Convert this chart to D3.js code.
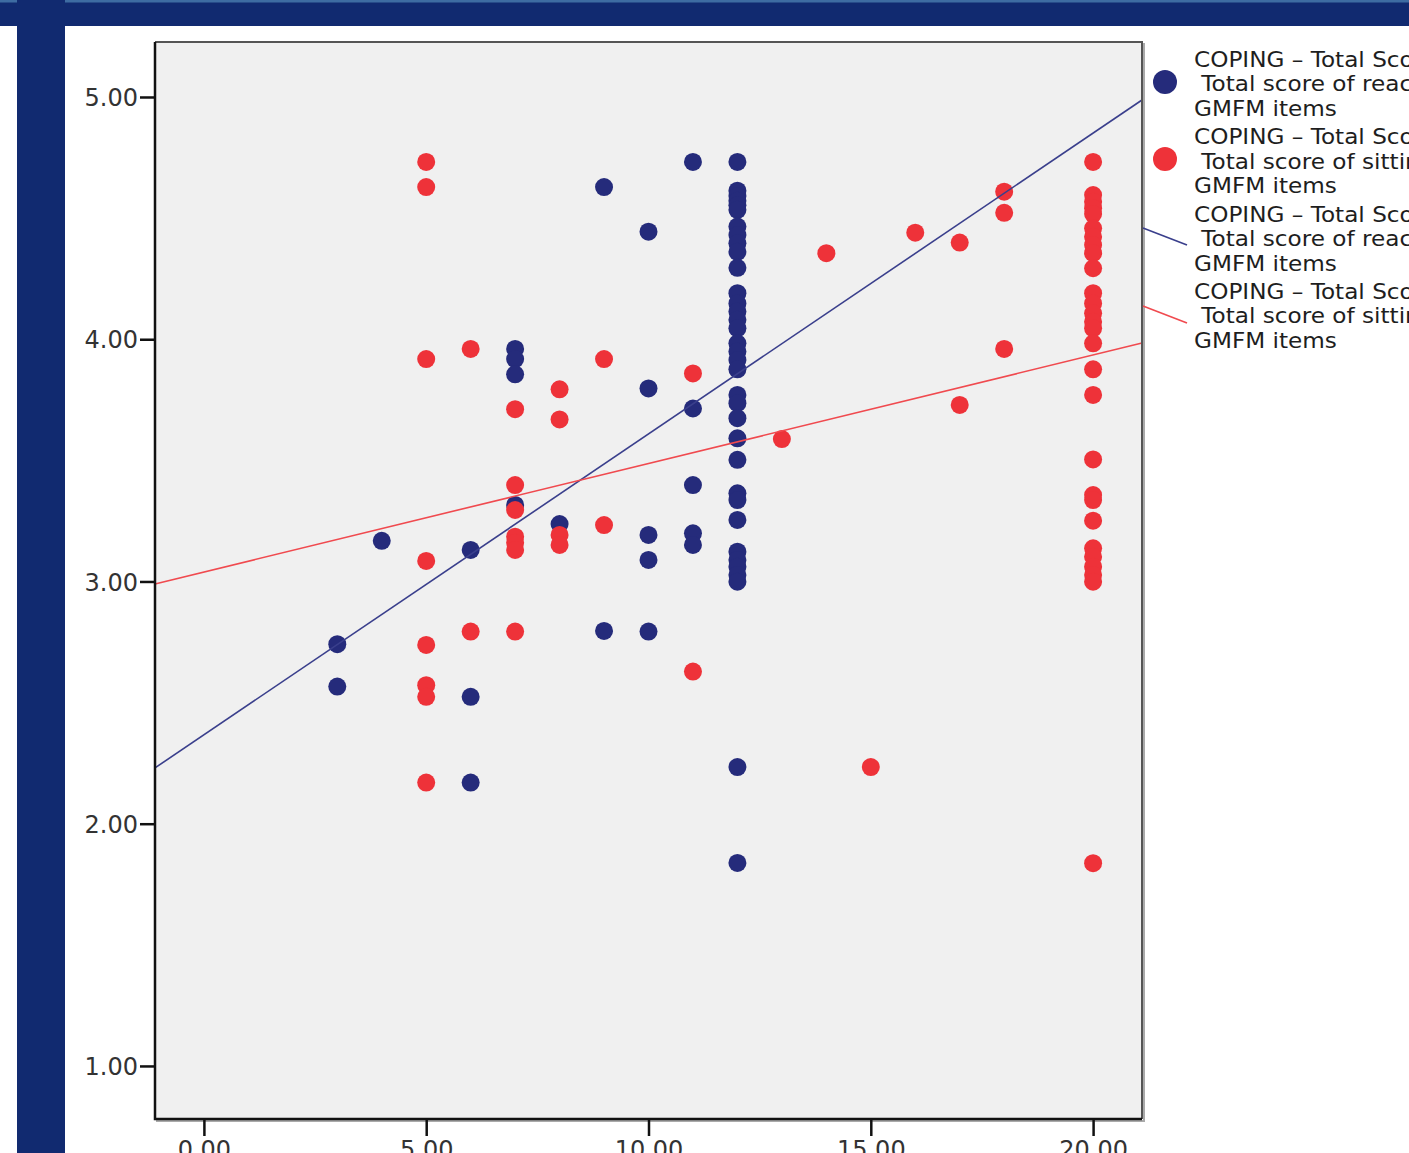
<!DOCTYPE html>
<html>
<head>
<meta charset="utf-8">
<script src="https://cdn.jsdelivr.net/npm/d3@7"></script>
<style>
  html, body { margin: 0; padding: 0; background: #fff; overflow: hidden; }
  svg { display: block; }
</style>
</head>
<body>
<svg id="chart" width="1409" height="1153"></svg>
<script>
// Reaching GMFM score (x) vs COPING total score (y)
const reachX = [3, 3, 4, 6, 6, 6, 7, 7, 7, 7, 8, 9, 9, 10, 10, 10, 10, 10, 11, 11, 11, 11, 11,
  12, 12, 12, 12, 12, 12, 12, 12, 12, 12, 12, 12, 12, 12, 12, 12, 12, 12, 12, 12,
  12, 12, 12, 12, 12, 12, 12, 12, 12, 12, 12, 12, 12, 12, 12];
const reachY = [2.741, 2.566, 3.168, 3.130, 2.524, 2.170, 3.960, 3.918, 3.855, 3.316, 3.237, 4.628, 2.796,
  4.444, 3.797, 3.192, 3.089, 2.793, 4.732, 3.714, 3.398, 3.199, 3.151,
  4.732, 4.613, 4.591, 4.572, 4.553, 4.534, 4.465, 4.430, 4.396, 4.361, 4.295, 4.190, 4.148, 4.114,
  4.080, 4.045, 3.983, 3.949, 3.914, 3.876, 3.770, 3.736, 3.674, 3.591, 3.502, 3.364, 3.336, 3.254,
  3.123, 3.089, 3.061, 3.027, 2.999, 2.234, 1.838];

// Sitting GMFM score (x) vs COPING total score (y)
const sitX = [5, 5, 5, 5, 5, 5, 5, 5, 6, 6, 7, 7, 7, 7, 7, 7, 7, 8, 8, 8, 8, 9, 9, 11, 11, 13, 14, 15, 16, 17, 17, 18, 18, 18,
  20, 20, 20, 20, 20, 20, 20, 20, 20, 20, 20, 20, 20, 20, 20, 20, 20, 20, 20, 20, 20, 20, 20, 20, 20, 20, 20, 20];
const sitY = [4.732, 4.628, 3.918, 3.085, 2.738, 2.572, 2.524, 2.170, 3.960, 2.793,
  3.711, 3.398, 3.295, 3.185, 3.160, 3.130, 2.793, 3.793, 3.669, 3.192, 3.151, 3.918, 3.233,
  3.859, 2.628, 3.588, 4.355, 2.234, 4.440, 4.399, 3.729, 4.609, 4.522, 3.960,
  4.732, 4.595, 4.568, 4.541, 4.517, 4.458, 4.423, 4.389, 4.355, 4.293, 4.190, 4.148, 4.107, 4.072,
  4.045, 3.983, 3.876, 3.770, 3.504, 3.357, 3.336, 3.251, 3.137, 3.102, 3.061, 3.027, 2.999, 1.837];

// linear fit lines: [intercept, slope]
const reachFit = [2.367, 0.1242];
const sitFit = [3.039, 0.0448];

const xTicks = [0, 5, 10, 15, 20];
const yTicks = [1, 2, 3, 4, 5];

const legendLines = [
  ['COPING – Total Score', ' Total score of reaching', 'GMFM items'],
  ['COPING – Total Score', ' Total score of sitting', 'GMFM items'],
  ['COPING – Total Score', ' Total score of reaching', 'GMFM items'],
  ['COPING – Total Score', ' Total score of sitting', 'GMFM items']
];

const navy = '#112a70';
const blueDot = '#252b7b';
const redDot = '#ee3239';
const blueLine = '#3a3f8c';
const redLine = '#f04a4f';

const svg = d3.select('#chart');

// window chrome around the screenshot
svg.append('rect').attr('x', 0).attr('y', 0).attr('width', 1409).attr('height', 26).attr('fill', navy);
svg.append('rect').attr('x', 0).attr('y', 0).attr('width', 1409).attr('height', 2.5).attr('fill', '#3e6ca2');
svg.append('rect').attr('x', 17).attr('y', 0).attr('width', 48).attr('height', 1153).attr('fill', navy);
svg.append('rect').attr('x', 24).attr('y', 0).attr('width', 33).attr('height', 3).attr('fill', navy);

const plot = { left: 155, right: 1142, top: 42, bottom: 1119 };

const x = d3.scaleLinear().domain([-1.1, 21.1]).range([plot.left, plot.right]);
const y = d3.scaleLinear().domain([0.781, 5.227]).range([plot.bottom, plot.top]);

// plot background and frame shadow
svg.append('rect')
    .attr('x', plot.left + 2).attr('y', plot.top + 2)
    .attr('width', plot.right - plot.left).attr('height', plot.bottom - plot.top)
    .attr('fill', 'none').attr('stroke', '#aaa').attr('stroke-width', 2);
svg.append('rect')
    .attr('x', plot.left).attr('y', plot.top)
    .attr('width', plot.right - plot.left).attr('height', plot.bottom - plot.top)
    .attr('fill', '#f0f0f0');

const g = svg.append('g');

// fit lines
function fitLine(fit, color) {
    const [a, b] = fit;
    const xs = x.domain();
    g.append('line')
        .attr('x1', x(xs[0])).attr('y1', y(a + b * xs[0]))
        .attr('x2', x(xs[1])).attr('y2', y(a + b * xs[1]))
        .attr('stroke', color).attr('stroke-width', 1.6);
}

// dots: reaching first, sitting drawn on top
g.selectAll('.reach')
    .data(reachX.map((d, i) => [d, reachY[i]]))
    .enter().append('circle')
    .attr('class', 'reach')
    .attr('cx', d => x(d[0]))
    .attr('cy', d => y(d[1]))
    .attr('r', 9)
    .attr('fill', blueDot);

g.selectAll('.sit')
    .data(sitX.map((d, i) => [d, sitY[i]]))
    .enter().append('circle')
    .attr('class', 'sit')
    .attr('cx', d => x(d[0]))
    .attr('cy', d => y(d[1]))
    .attr('r', 9)
    .attr('fill', redDot);

fitLine(reachFit, blueLine);
fitLine(sitFit, redLine);

// frame
svg.append('path')
    .attr('d', `M${plot.left},${plot.top}H${plot.right}V${plot.bottom}`)
    .attr('fill', 'none').attr('stroke', '#555').attr('stroke-width', 2);
svg.append('path')
    .attr('d', `M${plot.left},${plot.top}V${plot.bottom}H${plot.right}`)
    .attr('fill', 'none').attr('stroke', '#111').attr('stroke-width', 2.5);

// axes
const yAxis = svg.append('g')
    .attr('transform', `translate(${plot.left},0)`)
    .call(d3.axisLeft(y).tickValues(yTicks).tickFormat(d3.format('.2f')).tickSize(15).tickPadding(2));
const xAxis = svg.append('g')
    .attr('transform', `translate(0,${plot.bottom + 1})`)
    .call(d3.axisBottom(x).tickValues(xTicks).tickFormat(d3.format('.2f')).tickSize(16).tickPadding(5));

[yAxis, xAxis].forEach(ax => {
    ax.select('.domain').remove();
    ax.selectAll('.tick line').attr('stroke', '#111').attr('stroke-width', 2.5);
    ax.selectAll('.tick text')
        .attr('fill', '#333')
        .style('font-family', 'DejaVu Sans, sans-serif')
        .style('font-size', '24px');
});
yAxis.selectAll('.tick text').attr('dy', '0.36em');

// legend
const legend = svg.append('g');
legend.append('circle').attr('cx', 1165).attr('cy', 82).attr('r', 12).attr('fill', blueDot);
legend.append('circle').attr('cx', 1165).attr('cy', 159).attr('r', 12).attr('fill', redDot);
legend.append('line').attr('x1', 1143).attr('y1', 228).attr('x2', 1187).attr('y2', 245)
    .attr('stroke', blueLine).attr('stroke-width', 1.6);
legend.append('line').attr('x1', 1143).attr('y1', 306).attr('x2', 1187).attr('y2', 323)
    .attr('stroke', redLine).attr('stroke-width', 1.6);

legendLines.forEach((lines, i) => {
    const t = legend.append('text')
        .attr('transform', `translate(1194,${67 + i * 77.3}) scale(1.13,1)`)
        .attr('fill', '#1e1e1e')
        .style('font-family', 'DejaVu Sans, sans-serif')
        .style('font-size', '20.5px')
        .style('white-space', 'pre');
    lines.forEach((s, j) => {
        t.append('tspan').attr('x', 0).attr('y', j * 24.5).text(s);
    });
});
</script>
</body>
</html>
